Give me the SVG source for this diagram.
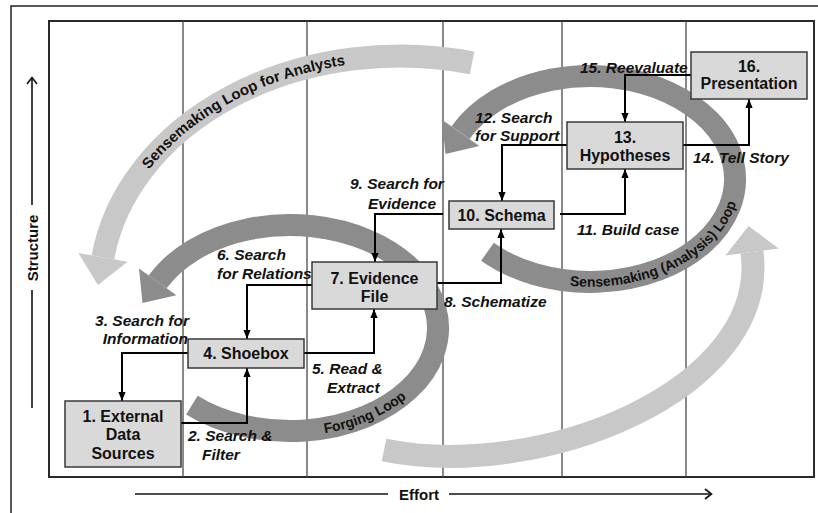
<svg xmlns="http://www.w3.org/2000/svg" width="818" height="513" viewBox="0 0 818 513">
<style>
.frame{fill:none;stroke:#222;stroke-width:1.5}
.plot{fill:#fff;stroke:#2a2a2a;stroke-width:2}
.col{stroke:#4a4a4a;stroke-width:1.3}
.bl{fill:none;stroke:#c8c8c8;stroke-width:23}
.bd{fill:none;stroke:#8c8c8c;stroke-width:22}
.hl{fill:#c8c8c8}
.hd{fill:#8c8c8c}
.box{fill:#d9d9d9;stroke:#383838;stroke-width:1.5}
.bt{font-family:"Liberation Sans",Arial,sans-serif;font-weight:bold;font-size:16px;text-anchor:middle;fill:#111}
.lb{font-family:"Liberation Sans",Arial,sans-serif;font-weight:bold;font-style:italic;font-size:15.5px;fill:#111}
.tx{font-family:"Liberation Sans",Arial,sans-serif;font-weight:bold;font-size:14px;fill:#111}
.ax{font-family:"Liberation Sans",Arial,sans-serif;font-weight:bold;font-size:15px;fill:#111;text-anchor:middle}
.axl{fill:none;stroke:#111;stroke-width:1.6}
.conn{fill:none;stroke:#000;stroke-width:2;marker-end:url(#ah)}
</style>
<defs>
<marker id="ah" markerUnits="userSpaceOnUse" markerWidth="9" markerHeight="7.5" viewBox="0 0 10 8" refX="10" refY="4" orient="auto"><path d="M0,0 L10,4 L0,8 z" fill="#000"/></marker>
<path id="tpA" d="M115,230.7 A295,229 0 0 1 415.4,61.3"/>
<path id="tpF" d="M274,435.4 A153,108 0 0 0 437.1,357.8"/>
<path id="tpS" d="M566.5,285.4 A150,108 0 0 0 737.2,199.6"/>
</defs>
<rect width="818" height="513" fill="#fff"/>
<path class="frame" d="M11,513 V6 H818"/>
<rect class="plot" x="49" y="21" width="765" height="456"/>
<g id="grid">
<line class="col" x1="183" y1="21" x2="183" y2="477"/>
<line class="col" x1="307" y1="21" x2="307" y2="477"/>
<line class="col" x1="443" y1="21" x2="443" y2="477"/>
<line class="col" x1="562" y1="21" x2="562" y2="477"/>
<line class="col" x1="686" y1="21" x2="686" y2="477"/>
</g>
<g id="axes">
<line class="axl" x1="32" y1="78" x2="32" y2="205"/>
<polyline class="axl" points="27,84 32,77.5 37,84"/>
<line class="axl" x1="32" y1="290" x2="32" y2="408"/>
<text class="ax" transform="translate(37.5,248) rotate(-90)">Structure</text>
<line class="axl" x1="135" y1="494" x2="388" y2="494"/>
<line class="axl" x1="449" y1="494" x2="711" y2="494"/>
<polyline class="axl" points="705,489 711.5,494 705,499"/>
<text class="ax" x="419" y="499.5">Effort</text>
</g>
<g id="loop-analysts">
<path class="bl" d="M472.1,62.9 A300,234 0 0 0 102.9,257.4"/>
<polygon class="hl" points="127.5,261.8 97.9,285 78.3,253"/>
<text class="tx" style="font-size:15px"><textPath href="#tpA" startOffset="50%" text-anchor="middle">Sensemaking Loop for Analysts</textPath></text>
</g>
<g id="loop-bottom">
<path class="bl" d="M384,450 C540,482 770,390 752,252"/>
<polygon class="hl" points="778.7,248.5 748.6,226 725.3,255.5"/>
</g>
<g id="loop-forging">
<path class="bd" d="M191.9,405.1 A148,103 0 1 0 157.7,281.9"/>
<polygon class="hd" points="176.4,295.3 142.5,303 139,268.5"/>
<text class="tx"><textPath href="#tpF" startOffset="50%" text-anchor="middle">Forging Loop</textPath></text>
</g>
<g id="loop-analysis">
<path class="bd" d="M487.5,251.8 A145,103 0 1 0 460.5,132.7"/>
<polygon class="hd" points="479.3,146 445.5,153.9 441.7,119.4"/>
<text class="tx"><textPath href="#tpS" startOffset="50%" text-anchor="middle">Sensemaking (Analysis) Loop</textPath></text>
</g>
<g id="connectors">
<path class="conn" d="M188,353 H122 V401"/>
<path class="conn" d="M181,423 H247 V368"/>
<path class="conn" d="M312,285 H247 V339"/>
<path class="conn" d="M304,353 H374 V309"/>
<path class="conn" d="M443,214 H375 V262"/>
<path class="conn" d="M437,283 H501 V229"/>
<path class="conn" d="M560,214 H625 V169"/>
<path class="conn" d="M567,145 H502 V201"/>
<path class="conn" d="M691,75 H625 V122"/>
<path class="conn" d="M683,145 H749 V99"/>
</g>
<g id="labels">
<text class="lb" x="189" y="325.5" text-anchor="end">3. Search for</text>
<text class="lb" x="188" y="343.5" text-anchor="end">Information</text>
<text class="lb" x="188" y="440.5">2. Search &amp;</text>
<text class="lb" x="202" y="459.5">Filter</text>
<text class="lb" x="312" y="373.5">5. Read &amp;</text>
<text class="lb" x="327" y="392.5">Extract</text>
<text class="lb" x="217" y="260">6. Search</text>
<text class="lb" x="217" y="278.5">for Relations</text>
<text class="lb" x="350" y="188.5">9. Search for</text>
<text class="lb" x="368" y="208.5">Evidence</text>
<text class="lb" x="444" y="306.5">8. Schematize</text>
<text class="lb" x="577" y="234.5">11. Build case</text>
<text class="lb" x="475" y="122.5">12. Search</text>
<text class="lb" x="475" y="140.5">for Support</text>
<text class="lb" x="580" y="72.5">15. Reevaluate</text>
<text class="lb" x="693" y="162.5">14. Tell Story</text>
</g>
<g id="n1"><rect class="box" x="65" y="401" width="116" height="66"/><text class="bt" x="123" y="421.5">1. External</text><text class="bt" x="123" y="440">Data</text><text class="bt" x="123" y="458.5">Sources</text></g>
<g id="n4"><rect class="box" x="188" y="339" width="116" height="29"/><text class="bt" x="246" y="359">4. Shoebox</text></g>
<g id="n7"><rect class="box" x="312" y="262" width="125" height="47"/><text class="bt" x="374.5" y="283.5">7. Evidence</text><text class="bt" x="374.5" y="301.5">File</text></g>
<g id="n10"><rect class="box" x="449" y="201" width="105" height="28"/><text class="bt" x="501.5" y="221">10. Schema</text></g>
<g id="n13"><rect class="box" x="567" y="122" width="116" height="47"/><text class="bt" x="625" y="143">13.</text><text class="bt" x="625" y="160.5">Hypotheses</text></g>
<g id="n16"><rect class="box" x="691" y="52" width="116" height="47"/><text class="bt" x="749" y="71.5">16.</text><text class="bt" x="749" y="88.5">Presentation</text></g>
</svg>
